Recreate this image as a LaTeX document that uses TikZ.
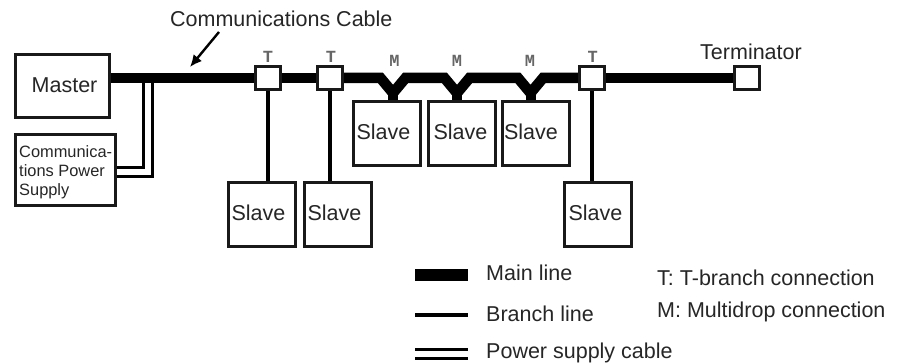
\documentclass[tikz,border=0pt]{standalone}
\usepackage{fontspec}
\usetikzlibrary{arrows.meta,backgrounds}
\setmainfont{Liberation Sans}
\setmonofont{Liberation Mono}
\newcommand{\slavelabel}[1]{\kern#1pt\raisebox{-6pt}[0pt][0pt]{Slave}\kern-#1pt}
\begin{document}
\begin{tikzpicture}[x=1pt,y=-1pt,
  box/.style={draw=black!90,line width=3pt,fill=white,inner sep=0pt,outer sep=0pt,rectangle},
  slavebox/.style={box,minimum width=67pt,minimum height=64pt,font=\fontsize{21.5}{24}\selectfont,text=black!85},
  tbox/.style={box,minimum width=24.7pt,minimum height=22.7pt},
  mainline/.style={line width=10.5pt,black,line join=miter,miter limit=10},
  stem/.style={line width=10pt,black},
  branchline/.style={line width=4pt,black},
  powerline/.style={line width=3pt,black},
  lab/.style={font=\fontsize{21.5}{24}\selectfont,text=black!85,inner sep=0pt,anchor=base west},
  tag/.style={font=\ttfamily\bfseries\fontsize{17}{17}\selectfont,text=black!60,inner sep=0pt}]
\useasboundingbox (0,0) rectangle (899,363);
\begin{pgfonlayer}{background}
\fill[white] (0,0) rectangle (899,363);
\end{pgfonlayer}
% nodes
\node[box,minimum width=93.5pt,minimum height=62.5pt] (master) at (62.3,86.2) {};
\node[lab] (mastertext) at (31.5,93) {Master};
\node[box,minimum width=100pt,minimum height=71.5pt] (psu) at (65.7,170) {};
\node[font=\fontsize{16.4}{19}\selectfont,text=black!85,inner sep=0pt,align=left,anchor=west] (psutext) at (19,172) {Communica-\\tions Power\\Supply};
\node[tbox] (t1) at (268,78) {};
\node[tbox] (t2) at (330.3,78) {};
\node[tbox] (t3) at (592,78) {};
\node[tbox] (term) at (747,78) {};
\node[slavebox] (s1) at (262,214.5) {\slavelabel{-3.5}};
\node[slavebox] (s2) at (338,214.5) {\slavelabel{-3.5}};
\node[slavebox] (s3) at (598,214.5) {\slavelabel{-2.5}};
\node[slavebox] (m1) at (386.5,133.5) {\slavelabel{-3}};
\node[slavebox] (m2) at (462,133.5) {\slavelabel{-1.5}};
\node[slavebox] (m3) at (536,133.5) {\slavelabel{-5}};
% junction coordinates
\coordinate (p1) at (143,78);
\coordinate (p2) at (152,78);
\coordinate (q1) at (117,168);
\coordinate (q2) at (117,177);
% lines
\begin{pgfonlayer}{background}
\draw[powerline] (p1) -- (p1 |- q1) -- (q1);
\draw[powerline] (p2) -- (p2 |- q2) -- (q2);
\draw[mainline] (master.east |- t1) -- (t1.west);
\draw[mainline] (t1.east) -- (t2.west);
\draw[mainline] (t2.east) -- (380.5,78) -- (393,93) -- (405.5,78) -- (444.5,78) -- (457,93) -- (469.5,78) -- (518,78) -- (530.5,93) -- (543,78) -- (t3.west);
\draw[mainline] (t3.east) -- (term.west);
\draw[stem] (393,90) -- (393,101);
\draw[stem] (457,90) -- (457,101);
\draw[stem] (530.5,90) -- (530.5,101);
\draw[branchline] (t1.south) -- (t1.south |- s1.north);
\draw[branchline] (t2.south) -- (t2.south |- s2.north);
\draw[branchline] (t3.south) -- (t3.south |- s3.north);
\end{pgfonlayer}
% tags
\node[tag] (tt1) at (268,56.7) {T};
\node[tag] (tt2) at (331,56.7) {T};
\node[tag] (tt3) at (592.7,56.7) {T};
\node[tag] (tm1) at (394.5,60.5) {M};
\node[tag] (tm2) at (457,60.5) {M};
\node[tag] (tm3) at (530,60.5) {M};
% labels
\node[lab] (cc) at (170,27) {Communications Cable};
\node[lab] (termtext) at (700,60) {Terminator};
\coordinate (a1) at (219,32);
\coordinate (a2) at (190,67);
\draw[line width=2.4pt,-{Latex[length=12pt,width=11pt]}] (a1) -- (a2);
% legend
\coordinate (l1a) at (415,275); \coordinate (l1b) at (468,275);
\coordinate (l2a) at (415,315); \coordinate (l2b) at (468,315);
\coordinate (l3a) at (415,349); \coordinate (l3b) at (468,349);
\coordinate (l4a) at (415,358); \coordinate (l4b) at (468,358);
\draw[line width=11pt] (l1a) -- (l1b);
\draw[branchline] (l2a) -- (l2b);
\draw[powerline] (l3a) -- (l3b);
\draw[powerline] (l4a) -- (l4b);
\node[lab] (lg1) at (486,280) {Main line};
\node[lab] (lg2) at (486,321) {Branch line};
\node[lab] (lg3) at (486,358) {Power supply cable};
\node[lab] (lg4) at (657,286) {T: T-branch connection};
\node[lab] (lg5) at (657,317) {M: Multidrop connection};
\end{tikzpicture}
\end{document}
